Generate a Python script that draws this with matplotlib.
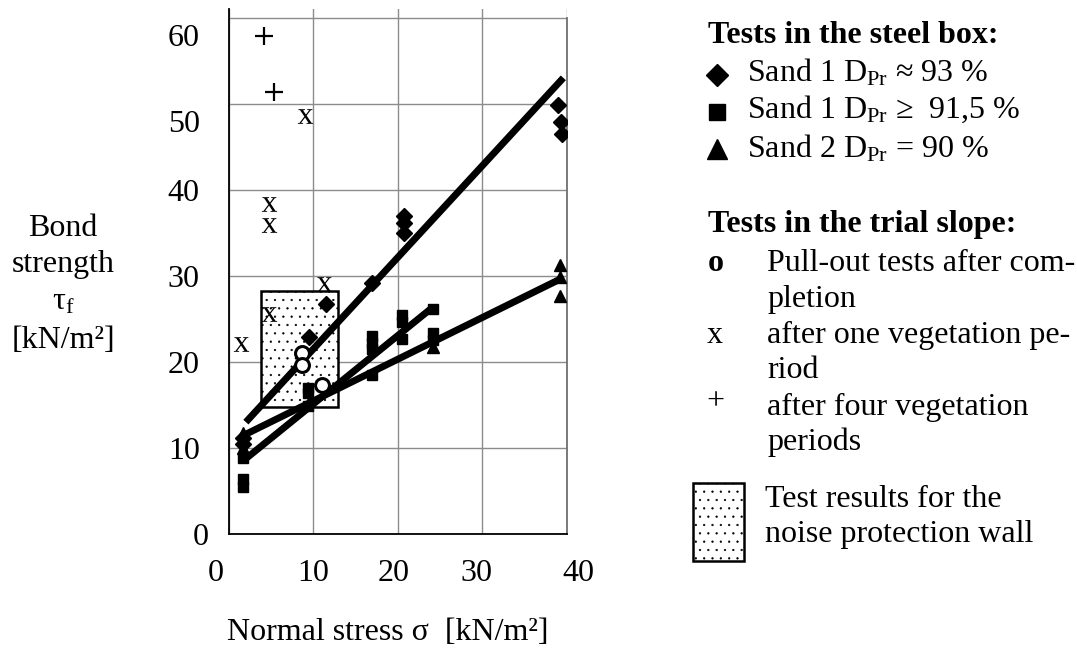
import matplotlib
matplotlib.use("Agg")
import matplotlib.pyplot as plt
from matplotlib.patches import Rectangle
from matplotlib.lines import Line2D
from matplotlib.transforms import ScaledTranslation

plt.rcParams['font.family'] = ['Liberation Serif', 'DejaVu Serif']
plt.rcParams['mathtext.fontset'] = 'custom'
plt.rcParams['mathtext.rm'] = 'Liberation Serif'
plt.rcParams['mathtext.it'] = 'Liberation Serif:italic'
plt.rcParams['mathtext.bf'] = 'Liberation Serif:bold'
plt.rcParams['hatch.color'] = '#555555'
plt.rcParams['hatch.linewidth'] = 0.4

# ---------------- data ----------------
x_ticks = [0, 10, 20, 30, 40]
y_ticks = [0, 10, 20, 30, 40, 50, 60]

# Steel box: Sand 1 D_Pr ~ 93 %
diamond_x = [1.7, 1.7, 9.5, 11.5, 16.9, 20.7, 20.7, 20.7, 39.0, 39.3, 39.5]
diamond_y = [11.2, 10.5, 22.9, 26.7, 29.2, 37.0, 36.1, 35.0, 49.9, 47.9, 46.5]
# Steel box: Sand 1 D_Pr >= 91,5 %
square_x = [1.7, 1.7, 1.7, 9.4, 9.4, 9.4, 16.9, 16.9, 16.9, 16.9,
            20.5, 20.5, 20.5, 24.2, 24.2, 24.2]
square_y = [8.8, 6.4, 5.5, 17.0, 16.4, 14.9, 23.0, 22.2, 21.5, 18.5,
            25.4, 24.6, 22.6, 26.1, 23.3, 22.5]
# Steel box: Sand 2 D_Pr = 90 %
triangle_x = [1.7, 1.7, 24.2, 39.2, 39.2, 39.2]
triangle_y = [11.7, 10.0, 21.7, 31.2, 29.9, 27.7]

# Trial slope
circle_x = [8.6, 8.6, 11.0]          # pull-out after completion
circle_y = [21.0, 19.6, 17.3]
cross_x = [1.4, 4.7, 4.7, 4.7, 9.0, 11.2]   # after one vegetation period
cross_y = [22.1, 25.6, 35.9, 38.4, 48.6, 29.1]
plus_x = [4.1, 5.3]                  # after four vegetation periods
plus_y = [57.9, 51.3]

# Regression lines
line_diamond_x = [2.0, 39.6]
line_diamond_y = [13.0, 53.0]
line_square_x = [1.8, 24.2]
line_square_y = [8.6, 26.4]
line_triangle_x = [1.8, 39.4]
line_triangle_y = [11.5, 29.7]

# Noise protection wall range
wall_x = [3.75, 12.9]
wall_y = [14.8, 28.2]

# ---------------- figure ----------------
W, H = 1077, 648
fig = plt.figure(figsize=(W / 100, H / 100), dpi=100)

def fx(px):
    return px / W

def fy(py):
    return 1 - py / H

ax = fig.add_axes([fx(229), fy(534), fx(566.7) - fx(229), fy(9) - fy(534)])
ax.set_xlim(0, 40)
ax.set_ylim(0, 61)
ax.set_xticks(x_ticks)
ax.set_yticks(y_ticks)
FS = 23
ax.tick_params(axis='both', length=0, labelsize=FS)
ax.tick_params(axis='y', pad=21)
ax.tick_params(axis='x', pad=18)
ax.grid(True, color='#8c8c8c', linewidth=1.0)
ax.set_axisbelow(True)
ax.spines['top'].set_visible(False)
ax.spines['right'].set_color('#707070')
ax.spines['right'].set_linewidth(1.3)
ax.spines['right'].set_bounds(0, 60)
ax.spines['left'].set_linewidth(1.3)
ax.spines['bottom'].set_linewidth(1.3)

# small pixel offsets of individual tick labels as in the reference
x_label_shift = [-13, 0, -4, -6, 12]
y_label_shift = [(9, 0), (0, 0), (0, 0), (0, 0), (0, 0), (0, -17), (0, -17)]
fig.canvas.draw()
for lab, dx in zip(ax.get_xticklabels(), x_label_shift):
    lab.set_transform(lab.get_transform() + ScaledTranslation(dx / 100, 0, fig.dpi_scale_trans))
for lab, (dx, dy) in zip(ax.get_yticklabels(), y_label_shift):
    lab.set_transform(lab.get_transform() + ScaledTranslation(dx / 100, dy / 100, fig.dpi_scale_trans))

# wall box
ax.add_patch(Rectangle((wall_x[0], wall_y[0]), wall_x[1] - wall_x[0], wall_y[1] - wall_y[0],
                       facecolor='white', edgecolor='black', linewidth=1.8,
                       hatch='..', zorder=2))

# lines
for lx, ly in [(line_diamond_x, line_diamond_y), (line_square_x, line_square_y),
               (line_triangle_x, line_triangle_y)]:
    ax.plot(lx, ly, color='black', linewidth=5, solid_capstyle='butt', zorder=3)

ax.plot(diamond_x, diamond_y, linestyle='none', marker='D', ms=8, color='black', zorder=4)
ax.plot(square_x, square_y, linestyle='none', marker='s', ms=7.5, color='black', zorder=4)
ax.plot(triangle_x, triangle_y, linestyle='none', marker='^', ms=9, color='black', zorder=4)
ax.plot(circle_x, circle_y, linestyle='none', marker='o', ms=10, mfc='white',
        mec='black', mew=2.2, zorder=5)
ax.plot(cross_x, cross_y, linestyle='none', marker=r'$\mathrm{x}$', ms=11, mew=0,
        color='black', zorder=5)
ax.plot(plus_x, plus_y, linestyle='none', marker='+', ms=13, mew=1.6,
        color='black', zorder=5)

# axis labels
for txt, by in [("Bond", 236), ("strength", 272), ("τ$_{\\mathrm{f}}$", 310), ("[kN/m²]", 348)]:
    fig.text(fx(63), fy(by), txt, ha='center', va='baseline', fontsize=FS)
fig.text(fx(388), fy(640), "Normal stress σ  [kN/m²]", ha='center', va='baseline', fontsize=FS)

# legend
fig.text(fx(708), fy(43), "Tests in the steel box:", fontsize=FS, fontweight='bold', va='baseline')
for mk, ms, my, txt, by in [('D', 11.5, 75, "Sand 1 D$_{\\mathrm{Pr}}$ ≈ 93 %", 82),
                            ('s', 12, 112, "Sand 1 D$_{\\mathrm{Pr}}$ ≥  91,5 %", 118),
                            ('^', 15, 149, "Sand 2 D$_{\\mathrm{Pr}}$ = 90 %", 157)]:
    fig.add_artist(Line2D([fx(717)], [fy(my)], marker=mk, ms=ms, color='black',
                          linestyle='none', transform=fig.transFigure))
    fig.text(fx(747), fy(by), txt, fontsize=FS, va='baseline')

fig.text(fx(708), fy(232), "Tests in the trial slope:", fontsize=FS, fontweight='bold', va='baseline')
fig.text(fx(708), fy(271), "o", fontsize=FS, fontweight='bold', va='baseline')
fig.text(fx(767), fy(271), "Pull-out tests after com-", fontsize=FS, va='baseline')
fig.text(fx(767), fy(307), "pletion", fontsize=FS, va='baseline')
fig.text(fx(707), fy(343), "x", fontsize=FS, va='baseline')
fig.text(fx(767), fy(343), "after one vegetation pe-", fontsize=FS, va='baseline')
fig.text(fx(767), fy(378), "riod", fontsize=FS, va='baseline')
fig.text(fx(706), fy(409), "+", fontsize=FS, va='baseline')
fig.text(fx(767), fy(415), "after four vegetation", fontsize=FS, va='baseline')
fig.text(fx(767), fy(450), "periods", fontsize=FS, va='baseline')

fig.add_artist(Rectangle((fx(693), fy(561)), fx(744) - fx(693), fy(483) - fy(561),
                         facecolor='white', edgecolor='black', linewidth=1.8,
                         hatch='..', transform=fig.transFigure))
fig.text(fx(765), fy(507), "Test results for the", fontsize=FS, va='baseline')
fig.text(fx(765), fy(542), "noise protection wall", fontsize=FS, va='baseline')

fig.savefig("out.png", dpi=100)
